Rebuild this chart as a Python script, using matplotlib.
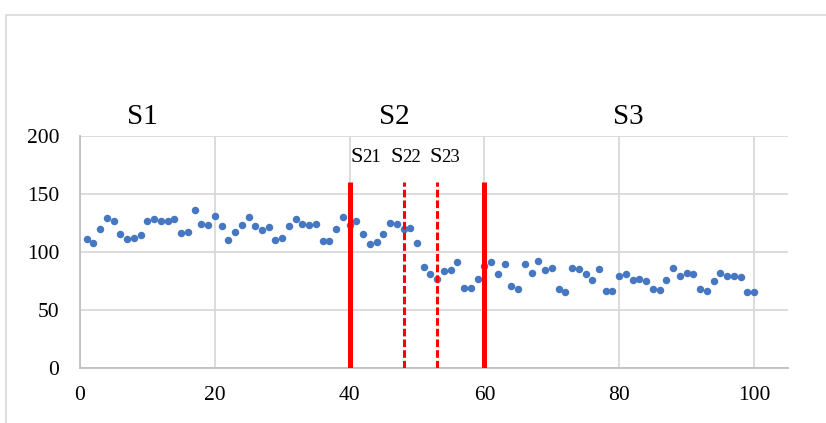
import matplotlib.pyplot as plt
from matplotlib.patches import Rectangle

plt.rcParams['font.family'] = ['Liberation Serif', 'DejaVu Serif']

# sample index 1..100 and measured values
x = list(range(1, 101))
y = [111.4, 107.4, 119.4, 129.7, 127.1, 115.7, 111.4, 112.3, 114.5, 126.5,
     128.3, 127.1, 127.1, 128.3, 116.6, 117.4, 136.3, 124.3, 123.7, 131.4,
     122.3, 110.2, 117.1, 123.7, 130.3, 122.5, 119.1, 121.4, 110.2, 112.3,
     122.5, 128.3, 124.3, 123.4, 124.3, 109.4, 109.4, 119.4, 130.6, 123.7,
     126.5, 115.7, 106.5, 108.5, 115.7, 125.4, 124.3, 119.4, 120.3, 107.4,
     87.4, 81.4, 77.1, 83.3, 84.5, 91.3, 69.3, 69.3, 77.1, 88.2,
     91.3, 81.4, 89.3, 71.0, 68.2, 89.3, 82.2, 92.5, 84.2, 86.2,
     68.2, 65.3, 86.2, 85.1, 81.4, 76.2, 85.1, 66.2, 66.2, 79.0,
     81.4, 76.2, 77.1, 75.3, 68.2, 67.3, 76.2, 86.2, 79.0, 82.2,
     81.4, 68.2, 66.4, 75.3, 82.2, 79.0, 79.0, 78.2, 65.3, 65.3]

# boundaries between stages
stage_bounds = [40, 60]
sub_bounds = [48, 53]
bound_top = 160

stage_labels = ['S1', 'S2', 'S3']
stage_label_x = [9.3, 46.7, 81.3]
sub_labels = ['21', '22', '23']
sub_label_x = [42.1, 48.0, 53.8]

fig = plt.figure(figsize=(8.26, 4.23), dpi=100)
# outer chart border
fig.patches.append(Rectangle((6 / 826, -0.1), 2, 1.1 - 15 / 423,
                             transform=fig.transFigure, fill=False,
                             edgecolor='#D9D9D9', linewidth=1.2))

ax = fig.add_axes([80 / 826, 1 - 368 / 423, (787.7 - 80) / 826, (368 - 136) / 423])

ax.scatter(x, y, s=29, color='#4677C2', zorder=3, linewidths=0)

ax.vlines(stage_bounds, 0, bound_top, colors='#FF0000', linewidth=3.6, zorder=4)
for b in sub_bounds:
    ax.plot([b, b], [0, bound_top], color='#FF0000', linewidth=2.2,
            dashes=(2.5, 1.0), zorder=4)

for lab, lx in zip(stage_labels, stage_label_x):
    ax.text(lx, 210.5, lab, fontsize=21, ha='center', va='baseline', clip_on=False)
# "S" a little larger than the digits after it
for lab, lx in zip(sub_labels, sub_label_x):
    ax.annotate('S', (lx, 178), xytext=(-0.3, 0), textcoords='offset points',
                fontsize=16, ha='right', va='baseline', annotation_clip=False)
    ax.annotate(lab, (lx, 178), xytext=(-1.2, 0), textcoords='offset points',
                fontsize=13.5, ha='left', va='baseline', annotation_clip=False)

ax.set_xlim(0, 105)
ax.set_ylim(0, 200)
ax.set_xticks([0, 20, 40, 60, 80, 100])
ax.set_yticks([0, 50, 100, 150, 200])
ax.grid(True, color='#D9D9D9', linewidth=1.3)
ax.set_axisbelow(True)
for s in ['top', 'right']:
    ax.spines[s].set_visible(False)
for s in ['left', 'bottom']:
    ax.spines[s].set_color('#BFBFBF')
    ax.spines[s].set_linewidth(1.3)
ax.tick_params(length=0, labelsize=15.5, colors='black')
ax.tick_params(axis='y', pad=15)
ax.tick_params(axis='x', pad=13)

fig.savefig('out.png', dpi=100)
